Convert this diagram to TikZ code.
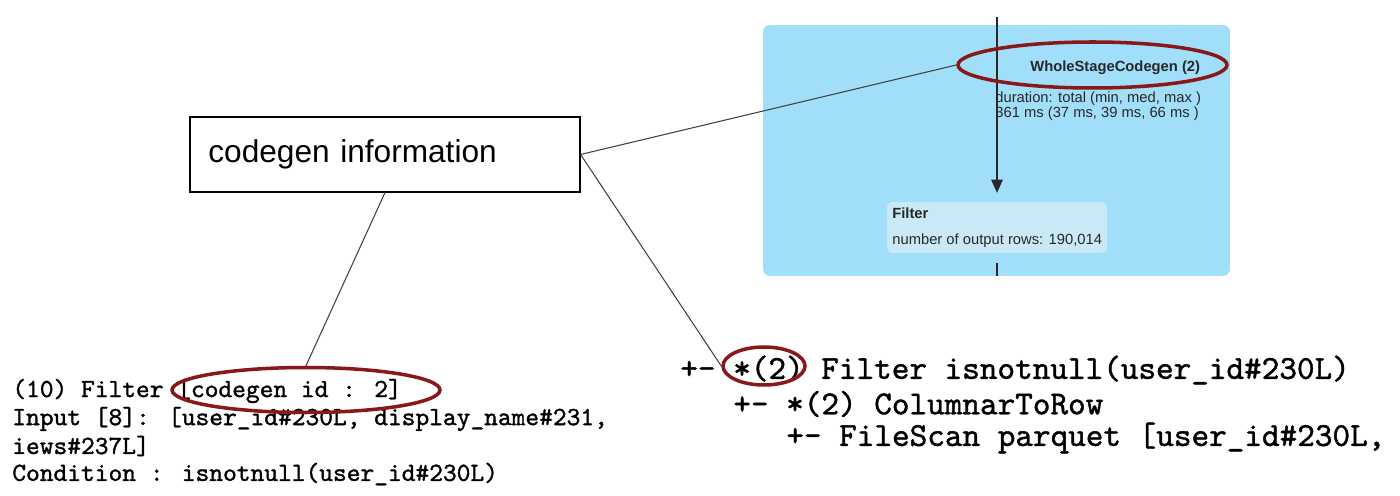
\documentclass[tikz,border=0pt]{standalone}
\usepackage{fontspec}
\setmainfont{Liberation Sans}
\newfontfamily\codefont{lmmono10-regular.otf}[FakeBold=1.2]
\usepackage{tikz}
\usetikzlibrary{shapes, arrows.meta}

\definecolor{panelblue}{RGB}{160,222,250}
\definecolor{rowblue}{RGB}{202,233,246}
\definecolor{ringred}{RGB}{136,24,26}
\definecolor{uigray}{RGB}{40,40,40}

\begin{document}
\begin{tikzpicture}[x=0.02cm, y=-0.02cm,
		ring/.style={ellipse, draw=ringred, line width=2pt, inner sep=0pt},
		link/.style={draw=black!75, line width=0.6pt},
		ui/.style={anchor=west, inner sep=0pt, text=uigray, font=\fontsize{8.4}{7.4}\selectfont},
		plan/.style={anchor=west, inner sep=0pt, font=\codefont\fontsize{14.9}{18}\selectfont},
		tree/.style={anchor=west, inner sep=0pt, font=\codefont\fontsize{19.1}{22}\selectfont}]
		\useasboundingbox (0,0) rectangle (1400,496);
		\clip (0,0) rectangle (1400,496);

		\node[fill=panelblue, rounded corners=4pt, minimum width=9.34cm, minimum height=5.02cm, inner sep=0pt] (panel) at (996.5,150.5) {};
		\node[fill=rowblue, rounded corners=3pt, minimum width=4.4cm, minimum height=1.02cm, inner sep=0pt] (filt) at (997,227.5) {};
		\node[ui, font=\bfseries\fontsize{8.4}{10}\selectfont] (filt-name) at (892,213) {Filter};
		\node[ui] (filt-rows) at (892,241) {number of output rows: 190,014};
		\node[ui, font=\bfseries\fontsize{8.4}{10}\selectfont] (wscg-name) at (1030,68) {WholeStageCodegen (2)};
		\node[ui, anchor=north west, align=left] (wscg-time) at (995,91) {duration: total (min, med, max )\\361 ms (37 ms, 39 ms, 66 ms )};

		\coordinate (flow-in) at (997,17);
		\coordinate (flow-out) at (997,276);
		\draw[link, draw=uigray, line width=0.9pt, shorten >=5pt, -{Triangle[length=7.5pt, width=6.5pt]}] (flow-in) -- (filt.north);
		\draw[link, draw=uigray, line width=0.9pt, shorten <=5.7pt] (filt.south) -- (flow-out);

		\node[draw, line width=0.7pt, minimum width=7.8cm, minimum height=1.5cm, text width=201pt, inner xsep=10.4pt, align=left, font=\fontsize{18}{22}\selectfont] (info) at (385,154.5) {codegen information};

		\node[plan] (plan-1) at (12,391) {(10) Filter [codegen id : 2]};
		\node[plan] (plan-2) at (12,419) {Input [8]: [user\_id\#230L, display\_name\#231,};
		\node[plan] (plan-3) at (12,446) {iews\#237L]};
		\node[plan] (plan-4) at (12,474) {Condition : isnotnull(user\_id\#230L)};

		\node[tree] (tree-1) at (680,370) {+- *(2) Filter isnotnull(user\_id\#230L)};
		\node[tree] (tree-2) at (733,404) {+- *(2) ColumnarToRow};
		\node[tree] (tree-3) at (786,438) {+- FileScan parquet [user\_id\#230L,};

		\node[ring, minimum width=5.38cm, minimum height=0.92cm] (wscg) at (1092.5,65) {};
		\node[ring, minimum width=1.64cm, minimum height=0.76cm] (star) at (764,366) {};
		\node[ring, minimum width=5.36cm, minimum height=0.9cm] (cid) at (306,390) {};

		\draw[link] (info.east) -- (wscg.west);
		\draw[link] (info.east) -- (star.west);
		\draw[link] (info.south) -- (cid.north);
	\end{tikzpicture}
\end{document}
